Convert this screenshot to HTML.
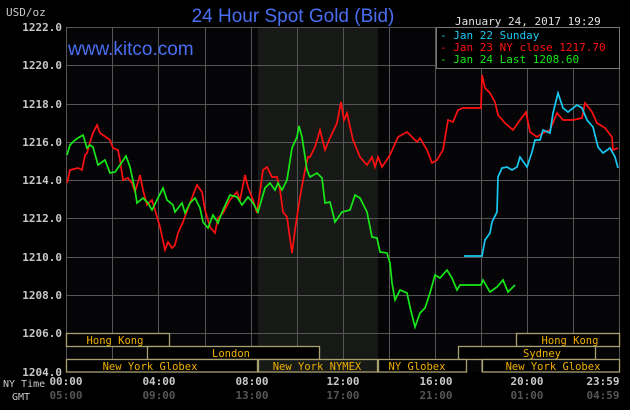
<!DOCTYPE html>
<html><head><meta charset="utf-8"><style>
html,body{margin:0;padding:0;background:#000;}
svg{display:block}
text{font-family:"DejaVu Sans Mono","Liberation Mono",monospace;}
</style></head><body>
<svg width="630" height="410" viewBox="0 0 630 410" xmlns="http://www.w3.org/2000/svg">
<rect width="630" height="410" fill="#000"/>
<rect x="66" y="27" width="554" height="345" fill="#050508"/>
<rect x="258" y="27" width="120" height="345" fill="#161916"/>
<g stroke="#555" stroke-width="1">
<line x1="66" y1="27.5" x2="620" y2="27.5"/><line x1="66" y1="65.5" x2="620" y2="65.5"/>
<line x1="66" y1="104.5" x2="620" y2="104.5"/><line x1="66" y1="142.5" x2="620" y2="142.5"/>
<line x1="66" y1="180.5" x2="620" y2="180.5"/><line x1="66" y1="218.5" x2="620" y2="218.5"/>
<line x1="66" y1="257.5" x2="620" y2="257.5"/><line x1="66" y1="295.5" x2="620" y2="295.5"/>
<line x1="66" y1="333.5" x2="620" y2="333.5"/>
<line x1="66.5" y1="27" x2="66.5" y2="372"/><line x1="112.5" y1="27" x2="112.5" y2="372"/>
<line x1="158.5" y1="27" x2="158.5" y2="372"/><line x1="205.5" y1="27" x2="205.5" y2="372"/>
<line x1="251.5" y1="27" x2="251.5" y2="372"/><line x1="297.5" y1="27" x2="297.5" y2="372"/>
<line x1="343.5" y1="27" x2="343.5" y2="372"/><line x1="389.5" y1="27" x2="389.5" y2="372"/>
<line x1="435.5" y1="27" x2="435.5" y2="372"/><line x1="481.5" y1="27" x2="481.5" y2="372"/>
<line x1="527.5" y1="27" x2="527.5" y2="372"/><line x1="573.5" y1="27" x2="573.5" y2="372"/>
<line x1="619.5" y1="27" x2="619.5" y2="372"/>
</g>
<g font-size="11" font-weight="bold" fill="#c8c8c8" text-anchor="end">
<text x="62" y="31">1222.0</text><text x="62" y="69">1220.0</text><text x="62" y="108">1218.0</text>
<text x="62" y="146">1216.0</text><text x="62" y="184">1214.0</text><text x="62" y="222">1212.0</text>
<text x="62" y="261">1210.0</text><text x="62" y="299">1208.0</text><text x="62" y="337">1206.0</text>
<text x="62" y="376">1204.0</text>
</g>
<text x="6" y="16" font-size="11" fill="#c8c8c8">USD/oz</text>
<text x="293" y="22" font-size="19" fill="#4a6ef0" text-anchor="middle" style="font-family:'Liberation Sans',sans-serif">24 Hour Spot Gold (Bid)</text>
<text x="455" y="25" font-size="11" fill="#e0e0e0">January 24, 2017 19:29</text>
<text x="68" y="55" font-size="19" fill="#4a6ef0" style="font-family:'Liberation Sans',sans-serif">www.kitco.com</text>
<polyline fill="none" stroke="#ff1010" stroke-width="1.7" points="67,183 70,170 78,168 82,170 85,155 87,153 90,142 93,133 97,125 100,133 103,135 110,140 113,148 118,150 120,160 123,180 128,178 132,183 135,192 140,175 143,190 147,205 152,200 155,210 160,227 165,250 168,242 172,248 175,245 178,233 183,222 190,203 197,185 202,192 205,210 210,227 215,233 218,218 223,213 230,200 237,192 240,200 245,175 248,187 253,200 257,213 263,170 267,167 272,177 277,177 280,190 283,212 287,217 292,253 295,230 300,197 305,170 308,157 310,157 315,147 320,130 325,150 330,138 337,123 341,102 344,120 347,113 353,140 360,157 367,165 372,157 375,167 378,157 382,167 390,155 398,137 407,132 417,142 420,138 427,150 432,163 437,160 443,150 448,120 453,122 458,110 463,108 481,108 482,75 485,88 490,93 495,102 498,115 505,123 513,130 520,120 526,112 530,132 537,137 543,133 550,130 557,113 563,120 573,120 582,118 585,103 592,112 597,123 605,128 612,137 613,150 618,148"/>
<polyline fill="none" stroke="#18e818" stroke-width="1.7" points="67,155 70,145 75,140 78,138 83,135 87,148 90,145 93,147 98,165 105,160 110,173 115,172 120,165 126,156 130,167 135,190 137,203 143,198 148,203 152,210 157,200 163,188 167,200 173,205 175,212 182,203 185,213 190,203 195,198 200,208 203,222 208,228 213,215 218,223 223,210 230,195 237,197 242,205 248,197 253,203 258,212 265,188 270,183 275,190 278,183 282,190 287,180 292,148 297,137 299,126 302,137 307,170 310,177 317,173 322,178 325,203 330,202 335,222 342,212 350,210 355,195 360,198 367,212 372,237 377,238 380,252 387,253 390,263 392,283 395,300 400,290 407,293 410,307 415,327 420,313 425,308 430,293 435,275 440,278 447,270 452,278 457,290 460,285 481,285 483,280 490,292 497,287 503,280 508,292 515,285"/>
<polyline fill="none" stroke="#18c8f0" stroke-width="1.7" points="464,256 482,256 485,240 490,233 492,222 497,212 498,177 502,168 507,167 512,170 517,167 520,157 527,167 532,152 535,140 540,140 543,130 550,133 553,113 558,93 563,108 568,112 577,105 582,108 587,120 593,127 598,147 603,153 610,148 615,157 618,168"/>
<rect x="436.5" y="27.5" width="183" height="41" fill="#000" stroke="#777"/>
<g font-size="11">
<text x="440" y="39" fill="#18c8f0">- Jan 22 Sunday</text>
<text x="440" y="51" fill="#ff1010">- Jan 23 NY close 1217.70</text>
<text x="440" y="63" fill="#18e818">- Jan 24 Last 1208.60</text>
</g>
<g fill="#000" stroke="#a8a070" stroke-width="1.3">
<rect x="66.5" y="333.5" width="103" height="13"/>
<rect x="516.5" y="333.5" width="103" height="13"/>
<rect x="147.5" y="346.5" width="172" height="13"/>
<rect x="458.5" y="346.5" width="137" height="13"/>
<rect x="66.5" y="359.5" width="191" height="12.5"/>
<rect x="258.5" y="359.5" width="119" height="12.5" fill="#161916"/>
<rect x="378.5" y="359.5" width="88" height="12.5"/>
<rect x="482.5" y="359.5" width="137" height="12.5"/>
</g>
<g font-size="10.5" fill="#f0b000" text-anchor="middle">
<text x="115" y="344">Hong Kong</text><text x="570" y="344">Hong Kong</text>
<text x="231" y="357">London</text><text x="542" y="357">Sydney</text>
<text x="150" y="370">New York Globex</text><text x="317" y="370">New York NYMEX</text>
<text x="417" y="370">NY Globex</text><text x="553" y="370">New York Globex</text>
</g>
<g font-size="11" font-weight="bold" fill="#c8c8c8" text-anchor="middle">
<text x="66" y="385">00:00</text><text x="159" y="385">04:00</text><text x="252" y="385">08:00</text>
<text x="343" y="385">12:00</text><text x="436" y="385">16:00</text><text x="527" y="385">20:00</text>
<text x="603" y="385">23:59</text>
</g>
<g font-size="11" font-weight="bold" fill="#555" text-anchor="middle">
<text x="66" y="399">05:00</text><text x="159" y="399">09:00</text><text x="252" y="399">13:00</text>
<text x="343" y="399">17:00</text><text x="436" y="399">21:00</text><text x="527" y="399">01:00</text>
<text x="603" y="399">04:59</text>
</g>
<text x="3" y="387" font-size="10" fill="#c8c8c8">NY Time</text>
<text x="12" y="400" font-size="10" fill="#c8c8c8">GMT</text>
</svg>
</body></html>
